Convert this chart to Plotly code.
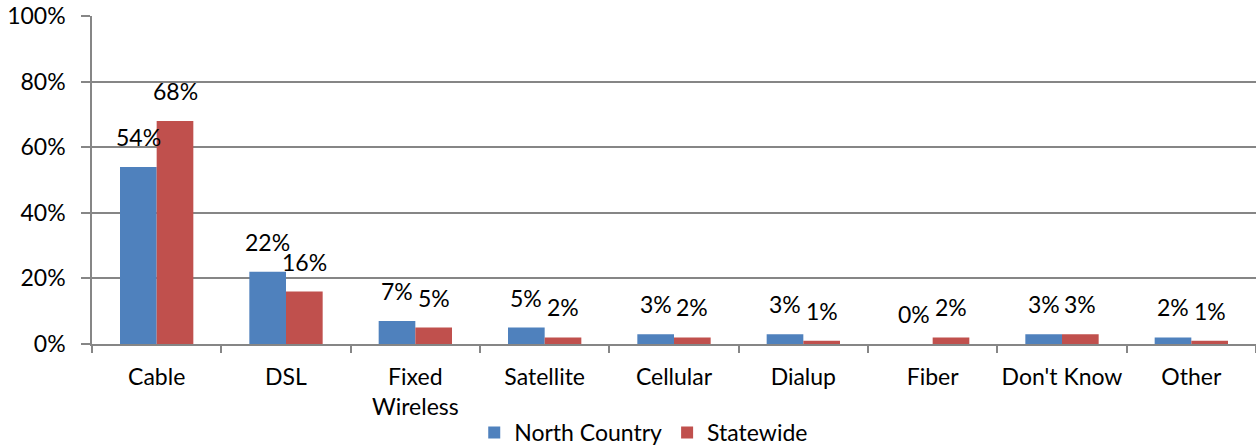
import plotly.graph_objects as go

categories = ["Cable", "DSL", "Fixed<br>Wireless", "Satellite", "Cellular", "Dialup", "Fiber", "Don't Know", "Other"]
north_country = [54, 22, 7, 5, 3, 3, 0, 3, 2]
statewide = [68, 16, 5, 2, 2, 1, 2, 3, 1]
y_ticks = [0, 20, 40, 60, 80, 100]
y_tick_text = [f"{v}%" for v in y_ticks]

FONT = "Lato"
FS = 23
BARGAP = 0.433
fig = go.Figure()
fig.add_trace(go.Bar(name="North Country", x=categories, y=north_country,
                     marker=dict(color="#4F81BD", line=dict(width=0))))
fig.add_trace(go.Bar(name="Statewide", x=categories, y=statewide,
                     marker=dict(color="#C0504D", line=dict(width=0))))

# data labels above bars (offset to each bar of the group)
plot_w = 1256 - 92
cat_w = plot_w / len(categories)
bar_w = cat_w * (1 - BARGAP) / 2
for series, shift in ((north_country, -bar_w / 2), (statewide, bar_w / 2)):
    for c, v in zip(categories, series):
        fig.add_annotation(x=c, y=v, xref="x", yref="y", text=f"{v}%", showarrow=False,
                           xshift=shift, yshift=14, yanchor="bottom",
                           font=dict(size=FS, family=FONT, color="black"))

fig.update_layout(
    width=1256, height=446,
    margin=dict(l=92, r=0, t=16, b=102, autoexpand=False),
    barmode="group", bargap=BARGAP, bargroupgap=0,
    plot_bgcolor="white", paper_bgcolor="white",
    font=dict(family=FONT, size=FS, color="black"),
    showlegend=True,
    legend=dict(orientation="h", x=0.474, xanchor="center", y=-0.27, yanchor="middle",
                font=dict(size=FS, family=FONT), tracegroupgap=0),
    xaxis=dict(showline=True, linecolor="#868686", linewidth=1.5, automargin=False, tickangle=0,
               ticks="outside", tickson="boundaries", ticklen=7, tickcolor="#868686", tickwidth=1.5,
               ticklabelstandoff=12, tickfont=dict(size=FS)),
    yaxis=dict(range=[0, 100], tickvals=y_ticks, ticktext=y_tick_text, automargin=False,
               showgrid=True, gridcolor="#868686", gridwidth=1.5,
               showline=True, linecolor="#868686", linewidth=1.5,
               ticks="outside", ticklen=9, tickcolor="#868686", tickwidth=1.5,
               ticklabelstandoff=11, tickfont=dict(size=FS), zeroline=False),
)
fig.write_html("out.html", config={"displayModeBar": False},
               post_script="document.body.style.margin='0';")
